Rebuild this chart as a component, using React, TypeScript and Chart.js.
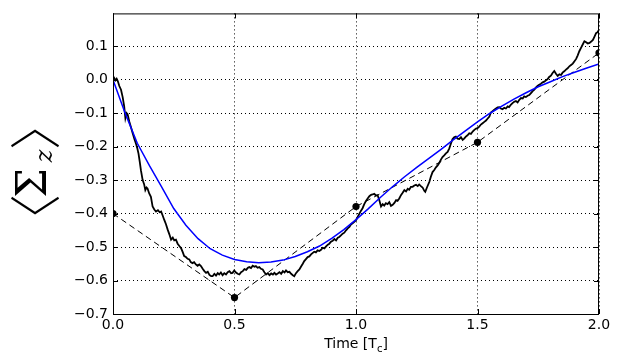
import { useEffect, useRef } from "react";
import { Chart, registerables } from "chart.js";

Chart.register(...registerables);

const xTickValues = [0, 0.5, 1.0, 1.5, 2.0];
const yTickValues = [-0.7, -0.6, -0.5, -0.4, -0.3, -0.2, -0.1, 0.0, 0.1];

const sampleTimes = [0, 0.5, 1.0, 1.5, 2.0];
const sampleValues = [-0.4, -0.651, -0.379, -0.187, 0.08];

const fitTimes = [0, 0.05, 0.1, 0.15, 0.2, 0.25, 0.3, 0.35, 0.4, 0.45, 0.5, 0.55, 0.6, 0.65, 0.7, 0.75, 0.8, 0.85, 0.9, 0.95, 1.0, 1.05, 1.1, 1.15, 1.2, 1.25, 1.3, 1.35, 1.4, 1.45, 1.5, 1.55, 1.6, 1.65, 1.7, 1.75, 1.8, 1.85, 1.9, 1.95, 2.0];
const fitValues = [0, -0.1, -0.19, -0.257, -0.32, -0.385, -0.435, -0.475, -0.505, -0.524, -0.537, -0.544, -0.547, -0.545, -0.539, -0.528, -0.514, -0.497, -0.474, -0.448, -0.418, -0.386, -0.352, -0.32, -0.29, -0.262, -0.235, -0.208, -0.18, -0.153, -0.126, -0.101, -0.079, -0.058, -0.039, -0.021, -0.006, 0.009, 0.022, 0.035, 0.047];

const walkPoints: [number, number][] = [
  [0.000, 0.000], [0.005, 0.005], [0.010, -0.002], [0.015, 0.003], [0.020, -0.005], [0.026, -0.019],
  [0.033, -0.030], [0.040, -0.053], [0.046, -0.080], [0.051, -0.115], [0.056, -0.100], [0.060, -0.103],
  [0.067, -0.125], [0.074, -0.142], [0.081, -0.160], [0.088, -0.177], [0.095, -0.192], [0.100, -0.205],
  [0.105, -0.221], [0.110, -0.245], [0.115, -0.271], [0.122, -0.300], [0.128, -0.312], [0.133, -0.330],
  [0.138, -0.322], [0.142, -0.325], [0.149, -0.340], [0.156, -0.350], [0.163, -0.379], [0.170, -0.388],
  [0.177, -0.394], [0.185, -0.390], [0.192, -0.396], [0.198, -0.394], [0.204, -0.405], [0.211, -0.419],
  [0.218, -0.432], [0.225, -0.448], [0.232, -0.462], [0.239, -0.478], [0.246, -0.472], [0.252, -0.480],
  [0.259, -0.478], [0.266, -0.490], [0.273, -0.497], [0.280, -0.503], [0.287, -0.515], [0.293, -0.527],
  [0.300, -0.530], [0.307, -0.535], [0.314, -0.537], [0.320, -0.545], [0.327, -0.548], [0.334, -0.545],
  [0.341, -0.552], [0.348, -0.556], [0.355, -0.552], [0.362, -0.557], [0.369, -0.565], [0.376, -0.572],
  [0.383, -0.577], [0.390, -0.574], [0.397, -0.583], [0.404, -0.587], [0.410, -0.587], [0.417, -0.580],
  [0.424, -0.585], [0.431, -0.578], [0.437, -0.582], [0.444, -0.576], [0.451, -0.584], [0.458, -0.578],
  [0.465, -0.582], [0.472, -0.575], [0.479, -0.572], [0.486, -0.578], [0.492, -0.577], [0.499, -0.570],
  [0.506, -0.576], [0.513, -0.580], [0.520, -0.582], [0.527, -0.575], [0.534, -0.572], [0.541, -0.566],
  [0.548, -0.568], [0.555, -0.562], [0.561, -0.560], [0.568, -0.563], [0.575, -0.556], [0.582, -0.559],
  [0.588, -0.557], [0.595, -0.562], [0.602, -0.560], [0.609, -0.565], [0.616, -0.567], [0.623, -0.575],
  [0.630, -0.582], [0.637, -0.578], [0.644, -0.584], [0.651, -0.579], [0.658, -0.582], [0.664, -0.577],
  [0.671, -0.582], [0.678, -0.579], [0.685, -0.575], [0.692, -0.580], [0.699, -0.572], [0.706, -0.576],
  [0.712, -0.570], [0.719, -0.575], [0.726, -0.574], [0.733, -0.580], [0.740, -0.584], [0.746, -0.587],
  [0.753, -0.578], [0.760, -0.572], [0.767, -0.567], [0.774, -0.558], [0.781, -0.550], [0.787, -0.542],
  [0.794, -0.536], [0.801, -0.530], [0.808, -0.528], [0.815, -0.522], [0.821, -0.518], [0.828, -0.514],
  [0.835, -0.516], [0.842, -0.510], [0.849, -0.512], [0.856, -0.508], [0.863, -0.502], [0.870, -0.504],
  [0.877, -0.498], [0.884, -0.493], [0.890, -0.490], [0.897, -0.484], [0.904, -0.481], [0.911, -0.476],
  [0.918, -0.480], [0.925, -0.472], [0.931, -0.470], [0.938, -0.465], [0.945, -0.460], [0.952, -0.457],
  [0.959, -0.450], [0.966, -0.444], [0.973, -0.440], [0.979, -0.433], [0.986, -0.429], [0.993, -0.425],
  [1.000, -0.420], [1.007, -0.410], [1.014, -0.400], [1.020, -0.392], [1.027, -0.384], [1.034, -0.372],
  [1.041, -0.362], [1.048, -0.355], [1.055, -0.348], [1.062, -0.344], [1.068, -0.343], [1.075, -0.341],
  [1.082, -0.346], [1.089, -0.345], [1.096, -0.360], [1.103, -0.379], [1.110, -0.372], [1.116, -0.376],
  [1.123, -0.369], [1.130, -0.372], [1.137, -0.366], [1.144, -0.377], [1.151, -0.374], [1.158, -0.368],
  [1.165, -0.360], [1.171, -0.362], [1.178, -0.355], [1.185, -0.345], [1.192, -0.338], [1.199, -0.330],
  [1.206, -0.334], [1.213, -0.326], [1.219, -0.329], [1.226, -0.320], [1.233, -0.320], [1.240, -0.316],
  [1.247, -0.314], [1.254, -0.318], [1.260, -0.313], [1.267, -0.318], [1.274, -0.322], [1.281, -0.332],
  [1.285, -0.335], [1.292, -0.322], [1.302, -0.305], [1.308, -0.290], [1.315, -0.276], [1.322, -0.270],
  [1.329, -0.262], [1.336, -0.256], [1.343, -0.248], [1.350, -0.238], [1.356, -0.231], [1.363, -0.226],
  [1.370, -0.220], [1.377, -0.216], [1.384, -0.205], [1.391, -0.190], [1.397, -0.178], [1.404, -0.172],
  [1.411, -0.170], [1.418, -0.176], [1.425, -0.177], [1.432, -0.172], [1.439, -0.180], [1.445, -0.176],
  [1.452, -0.170], [1.459, -0.166], [1.466, -0.160], [1.473, -0.162], [1.480, -0.155], [1.487, -0.150],
  [1.494, -0.146], [1.500, -0.145], [1.507, -0.140], [1.514, -0.134], [1.521, -0.130], [1.528, -0.126],
  [1.535, -0.122], [1.542, -0.116], [1.549, -0.110], [1.555, -0.098], [1.562, -0.094], [1.569, -0.090],
  [1.576, -0.086], [1.583, -0.083], [1.590, -0.082], [1.596, -0.086], [1.603, -0.088], [1.610, -0.084],
  [1.617, -0.086], [1.624, -0.080], [1.630, -0.082], [1.637, -0.075], [1.644, -0.070], [1.651, -0.066],
  [1.658, -0.064], [1.665, -0.068], [1.672, -0.060], [1.679, -0.055], [1.686, -0.056], [1.692, -0.050],
  [1.699, -0.052], [1.706, -0.048], [1.713, -0.046], [1.720, -0.040], [1.727, -0.034], [1.734, -0.030],
  [1.740, -0.024], [1.747, -0.019], [1.754, -0.015], [1.761, -0.012], [1.768, -0.008], [1.775, -0.006],
  [1.782, -0.002], [1.788, 0.001], [1.795, 0.008], [1.802, 0.012], [1.809, 0.020], [1.816, 0.026],
  [1.823, 0.018], [1.830, 0.011], [1.837, 0.016], [1.844, 0.014], [1.850, 0.021], [1.857, 0.025],
  [1.864, 0.030], [1.871, 0.034], [1.878, 0.040], [1.885, 0.044], [1.892, 0.048], [1.899, 0.055],
  [1.906, 0.062], [1.912, 0.072], [1.919, 0.085], [1.926, 0.095], [1.933, 0.105], [1.940, 0.115],
  [1.947, 0.112], [1.954, 0.108], [1.961, 0.110], [1.968, 0.114], [1.975, 0.119], [1.981, 0.128],
  [1.988, 0.139], [1.994, 0.142], [2.000, 0.148],
];

const FONT = "'DejaVu Sans', sans-serif";
const SERIF = "'DejaVu Serif', serif";
const CJK = "'Noto Sans CJK JP', 'Noto Sans CJK SC', sans-serif";

const fmt = (v: number) => {
  const r = Math.round(v * 10) / 10;
  if (Math.abs(r) < 1e-9) return "0.0";
  return (r < 0 ? "\u2212" : "") + Math.abs(r).toFixed(1);
};

const decorPlugin = {
  id: "decor",
  afterDatasetsDraw(chart: any) {
    const { ctx, chartArea: a, scales } = chart;
    const xs = scales.x;
    const ys = scales.y;
    ctx.save();
    ctx.strokeStyle = "#000";
    ctx.lineWidth = 1;
    ctx.setLineDash([]);
    ctx.beginPath();
    for (const v of xTickValues) {
      const px = Math.round(xs.getPixelForValue(v)) + 0.5;
      ctx.moveTo(px, a.bottom);
      ctx.lineTo(px, a.bottom - 5);
      ctx.moveTo(px, a.top);
      ctx.lineTo(px, a.top + 5);
    }
    for (const v of yTickValues) {
      const py = Math.round(ys.getPixelForValue(v)) + 0.5;
      ctx.moveTo(a.left, py);
      ctx.lineTo(a.left + 5, py);
      ctx.moveTo(a.right, py);
      ctx.lineTo(a.right - 5, py);
    }
    ctx.stroke();
    ctx.strokeRect(a.left + 0.5, a.top + 0.5, a.right - a.left - 1, a.bottom - a.top);
    ctx.restore();
  },
  afterDraw(chart: any) {
    const { ctx, chartArea: a } = chart;
    ctx.save();
    ctx.fillStyle = "#000";
    // x-axis title: Time [T_c]
    const cx = (a.left + a.right) / 2;
    const base = 348;
    ctx.textBaseline = "alphabetic";
    const p1 = "Time [T";
    const p3 = "]";
    ctx.font = `14px ${FONT}`;
    const w1 = ctx.measureText(p1).width;
    const w3 = ctx.measureText(p3).width;
    ctx.font = `10px ${FONT}`;
    const w2 = ctx.measureText("c").width;
    const total = w1 + w2 + w3;
    const x0 = cx - total / 2;
    ctx.textAlign = "left";
    ctx.font = `14px ${FONT}`;
    ctx.fillText(p1, x0, base);
    ctx.font = `10px ${FONT}`;
    ctx.fillText("c", x0 + w1, base + 4);
    ctx.font = `14px ${FONT}`;
    ctx.fillText(p3, x0 + w1 + w2, base);

    // y-axis title: ⟨Σ_z⟩ rotated
    ctx.translate(35, 168);
    ctx.rotate(-Math.PI / 2);
    ctx.textAlign = "center";
    ctx.textBaseline = "middle";
    ctx.font = `300 52px ${CJK}`;
    ctx.fillText("\u3008", -52, 0);
    ctx.fillText("\u3009", 44, 0);
    ctx.textBaseline = "alphabetic";
    ctx.font = `42px ${SERIF}`;
    ctx.fillText("\u03A3", -15, 11);
    ctx.font = `italic 24px ${SERIF}`;
    ctx.fillText("z", 12, 17);
    ctx.restore();
  },
};

export default function App() {
  const ref = useRef<HTMLCanvasElement | null>(null);
  useEffect(() => {
    if (!ref.current) return;
    const chart = new Chart(ref.current, {
      type: "scatter",
      data: {
        datasets: [
          {
            label: "fit",
            data: fitTimes.map((t, i) => ({ x: t, y: fitValues[i] })),
            showLine: true,
            borderColor: "#0000ff",
            borderWidth: 1.5,
            pointRadius: 0,
            tension: 0,
            clip: 0,
            order: 1,
          },
          {
            label: "walk",
            data: walkPoints.map(([t, v]) => ({ x: t, y: v })),
            showLine: true,
            borderColor: "#000000",
            borderWidth: 1.8,
            pointRadius: 0,
            tension: 0,
            clip: 0,
            order: 2,
          },
          {
            label: "samples",
            data: sampleTimes.map((t, i) => ({ x: t, y: sampleValues[i] })),
            showLine: true,
            borderColor: "#000000",
            borderWidth: 1,
            borderDash: [6, 4],
            pointRadius: 3.6,
            pointBackgroundColor: "#000000",
            pointBorderColor: "#000000",
            pointBorderWidth: 0,
            tension: 0,
            clip: 0,
            order: 3,
          },
        ],
      },
      options: {
        animation: false,
        responsive: false,
        events: [],
        layout: { padding: { left: 0, top: 10, right: 22, bottom: 0 } },
        plugins: { legend: { display: false }, tooltip: { enabled: false } },
        scales: {
          x: {
            type: "linear",
            min: 0,
            max: 2,
            afterBuildTicks: (s: any) => {
              s.ticks = xTickValues.map((v) => ({ value: v }));
            },
            afterFit: (s: any) => {
              s.height = 38;
            },
            ticks: {
              callback: (v: any) => fmt(Number(v)),
              font: { family: FONT, size: 14 },
              color: "#000",
              padding: 3,
              maxRotation: 0,
              autoSkip: false,
            },
            grid: { color: "#000", lineWidth: 1, drawTicks: false },
            border: { display: false, dash: [1, 3] },
          },
          y: {
            type: "linear",
            min: -0.7,
            max: 0.198,
            afterBuildTicks: (s: any) => {
              s.ticks = yTickValues.map((v) => ({ value: v }));
            },
            afterFit: (s: any) => {
              s.width = 113;
            },
            ticks: {
              callback: (v: any) => fmt(Number(v)),
              font: { family: FONT, size: 14 },
              color: "#000",
              padding: 5,
              autoSkip: false,
            },
            grid: { color: "#000", lineWidth: 1, drawTicks: false },
            border: { display: false, dash: [1, 3] },
          },
        },
      },
      plugins: [decorPlugin],
    });
    return () => chart.destroy();
  }, []);
  return (
    <div style={{ position: "absolute", left: 0, top: 0, width: 621, height: 352, background: "#fff" }}>
      <canvas ref={ref} width={621} height={352} style={{ width: 621, height: 352, display: "block" }} />
    </div>
  );
}
